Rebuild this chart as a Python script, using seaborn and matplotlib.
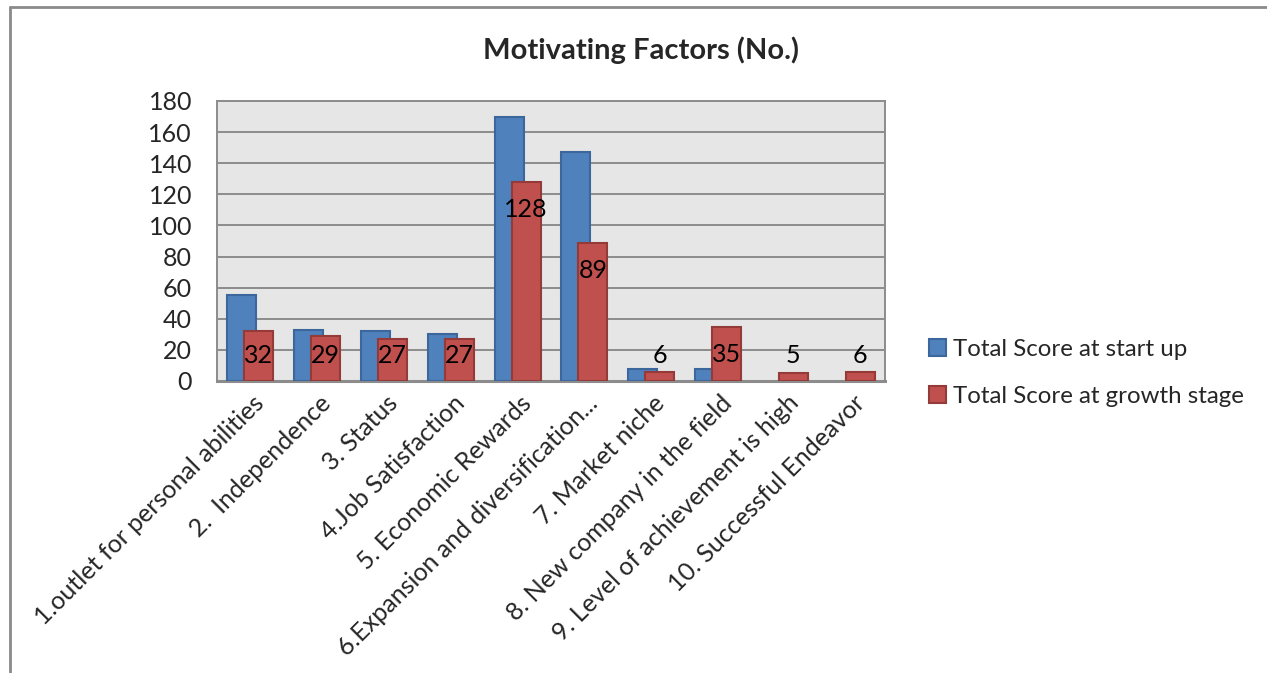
import matplotlib
matplotlib.use("Agg")
import matplotlib.pyplot as plt
import matplotlib.transforms as mtransforms
from matplotlib.patches import Patch
from matplotlib.lines import Line2D
import seaborn as sns
import pandas as pd

# ---- data ----
categories = [
    "1.outlet for personal abilities",
    "2.  Independence",
    "3. Status",
    "4.Job Satisfaction",
    "5. Economic Rewards",
    "6.Expansion and diversification...",
    "7. Market niche",
    "8. New company in the field",
    "9. Level of achievement is high",
    "10. Successful Endeavor",
]
start_up = [55, 33, 32, 30, 170, 147, 8, 8, 0, 0]
growth = [32, 29, 27, 27, 128, 89, 6, 35, 5, 6]
series_names = ["Total Score at start up", "Total Score at growth stage"]
y_ticks = [0, 20, 40, 60, 80, 100, 120, 140, 160, 180]
title = "Motivating Factors (No.)"

fills = ["#4F81BD", "#C0504D"]
edges = ["#3B679C", "#943B39"]

df = pd.DataFrame({
    "Factor": categories * 2,
    "Score": start_up + growth,
    "Series": [series_names[0]] * len(categories) + [series_names[1]] * len(categories),
})

sns.set_theme(style="white")
plt.rcParams["font.family"] = ["Lato", "DejaVu Sans"]

W, H = 1267, 673
fig = plt.figure(figsize=(W / 100, H / 100), dpi=100)
fig.patch.set_facecolor("white")

# outer chart frame (top and left edges visible)
fig.add_artist(Line2D([10 / W, 10 / W], [0, 1 - 7 / H], transform=fig.transFigure, color="#8a8a8a", lw=2))
fig.add_artist(Line2D([10 / W, 1], [1 - 7 / H, 1 - 7 / H], transform=fig.transFigure, color="#8a8a8a", lw=2))

left, right, top, bottom = 217, 885, 101, 381
ax = fig.add_axes([left / W, 1 - bottom / H, (right - left) / W, (bottom - top) / H])
ax.set_facecolor("#E6E6E6")

sns.barplot(data=df, x="Factor", y="Score", hue="Series", order=categories,
            hue_order=series_names, palette=fills, saturation=1, ax=ax,
            legend=False, errorbar=None)

bar_w = 0.434
offsets = [-0.127, 0.127]
for i, cont in enumerate(ax.containers):
    for j, p in enumerate(cont.patches):
        p.set_x(j + offsets[i] - bar_w / 2)
        p.set_width(bar_w)
        p.set_edgecolor(edges[i])
        p.set_linewidth(1.5)
        p.set_zorder(3 + i)
        if p.get_height() == 0:
            p.set_visible(False)

FS = 18

# data labels for growth stage
for j, v in enumerate(growth):
    ax.text(j + offsets[1], max(v - 18, 16.5), str(v), ha="center", va="center",
            fontsize=FS, color="black", zorder=10)

ax.set_xlim(-0.5, len(categories) - 0.5)
ax.set_ylim(0, 180)
ax.set_yticks(y_ticks)
ax.set_yticklabels([str(t) for t in y_ticks], fontsize=FS)
ax.yaxis.grid(True, color="#8c8c8c", lw=1.4)
ax.set_axisbelow(True)
ax.tick_params(axis="y", length=0, pad=18)
ax.tick_params(axis="x", length=0, pad=6)
ax.set_xlabel("")
ax.set_ylabel("")
ax.set_xticks(range(len(categories)))
ax.set_xticklabels(categories, rotation=45, ha="right", va="center",
                   rotation_mode="anchor", fontsize=FS)
off = mtransforms.ScaledTranslation(10 / 100, -10 / 100, fig.dpi_scale_trans)
for lab in ax.get_xticklabels():
    lab.set_transform(lab.get_transform() + off)

for s in ax.spines.values():
    s.set_color("#8c8c8c")
    s.set_linewidth(1.4)
ax.spines["bottom"].set_linewidth(2.2)

fig.text(641 / W, 1 - 50 / H, title, ha="center", va="center",
         fontsize=21, fontweight="bold")

handles = [Patch(facecolor=fills[i], edgecolor=edges[i], linewidth=1.5) for i in range(2)]
fig.legend(handles, series_names, loc="center left",
           bbox_to_anchor=(907 / W, 1 - 373 / H), frameon=False, fontsize=17.3,
           handlelength=0.72, handleheight=0.72, handletextpad=0.3, labelspacing=1.1)

fig.savefig("out.png", dpi=100)
